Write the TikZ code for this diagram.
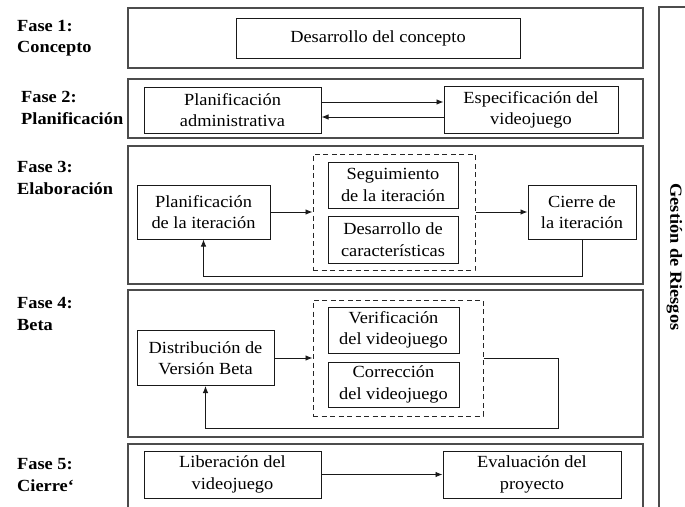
\documentclass[tikz,border=0pt]{standalone}
\usepackage{fontspec}
\setmainfont{Liberation Serif}[FakeStretch=1.08]
\usetikzlibrary{arrows.meta}

\begin{document}
\begin{tikzpicture}[x=1pt, y=-1pt, every node/.style={inner sep=0pt,
                            align=center, font=\fontsize{17}{21.5}\selectfont},
                    caja/.style={draw=black!90, line width=1pt},
                    grupo/.style={draw=black!85, line width=1pt,
                            dash pattern=on 5pt off 3.5pt},
                    fase/.style={draw=black!70, line width=1.3pt},
                    etiqueta/.style={anchor=west, align=left,
                            font=\fontsize{17}{21.5}\selectfont\bfseries},
                    flecha/.style={draw=black!90, line width=0.9pt,
                            -{Latex[length=7pt,width=5.5pt]}}]
                \useasboundingbox (0,0) rectangle (685,506);
                \clip (0,0) rectangle (685,506);

                \foreach \a/\b in {8/68, 79/138, 146/284, 290/437, 444/520} {
                        \draw[fase] (128,\a) rectangle (643,\b);
                    }
                \draw[fase] (659,7) rectangle (700,520);

                \node[etiqueta] (L1) at (17,38)  {Fase 1:\\Concepto};
                \node[etiqueta] (L2) at (21,108) {Fase 2:\\Planificación};
                \node[etiqueta] (L3) at (17,178) {Fase 3:\\Elaboración};
                \node[etiqueta] (L4) at (17,314) {Fase 4:\\Beta};
                \node[etiqueta] (L5) at (17,475) {Fase 5:\\Cierre`};
                \node[font=\fontsize{17}{21.5}\selectfont\bfseries, rotate=-90]
                        (R) at (674.5,257) {Gestión de Riesgos};

                % fase 1
                \node[caja, minimum width=284, minimum height=40] (C1) at (378,38)
                        {Desarrollo del concepto};

                % fase 2
                \node[caja, minimum width=177, minimum height=46] (A2) at (232.5,110)
                        {Planificación\\administrativa};
                \node[caja, minimum width=174, minimum height=47] (E2) at (531,110)
                        {Especificación del\\videojuego};

                % fase 3
                \node[caja, minimum width=133, minimum height=54] (I3) at (203.5,212)
                        {Planificación\\de la iteración};
                \node[grupo, minimum width=162, minimum height=116] (G3) at (394,212) {};
                \node[caja, minimum width=130, minimum height=46] (S3) at (393,185)
                        {Seguimiento\\de la iteración};
                \node[caja, minimum width=130, minimum height=47] (D3) at (393,239.5)
                        {Desarrollo de\\características};
                \node[caja, minimum width=108, minimum height=54] (C3) at (582,212)
                        {Cierre de\\la iteración};

                % fase 4
                \node[caja, minimum width=137, minimum height=55] (D4) at (205.5,358)
                        {Distribución de\\Versión Beta};
                \node[grupo, minimum width=170, minimum height=116] (G4) at (398,358) {};
                \node[caja, minimum width=131, minimum height=46] (V4) at (393.5,330)
                        {Verificación\\del videojuego};
                \node[caja, minimum width=131, minimum height=45] (K4) at (393.5,384.5)
                        {Corrección\\del videojuego};

                % fase 5
                \node[caja, minimum width=177, minimum height=47] (B5) at (232.5,474.5)
                        {Liberación del\\videojuego};
                \node[caja, minimum width=178, minimum height=47] (E5) at (532,474.5)
                        {Evaluación del\\proyecto};

                \draw[flecha] ([yshift=8pt]A2.east) -- ([yshift=8pt]A2.east -| E2.west);
                \draw[flecha] ([yshift=-7pt]E2.west) -- ([yshift=-7pt]E2.west -| A2.east);

                \foreach \i/\j in {I3/G3, G3/C3, D4/G4, B5/E5} {
                        \draw[flecha] (\i) -- (\j);
                    }

                \draw[flecha] (C3.south) -- ++(0,37) -| (I3.south);
                \draw[flecha] (G4.east) -- ++(75,0) -- ++(0,70) -| (D4.south);
            \end{tikzpicture}
\end{document}
